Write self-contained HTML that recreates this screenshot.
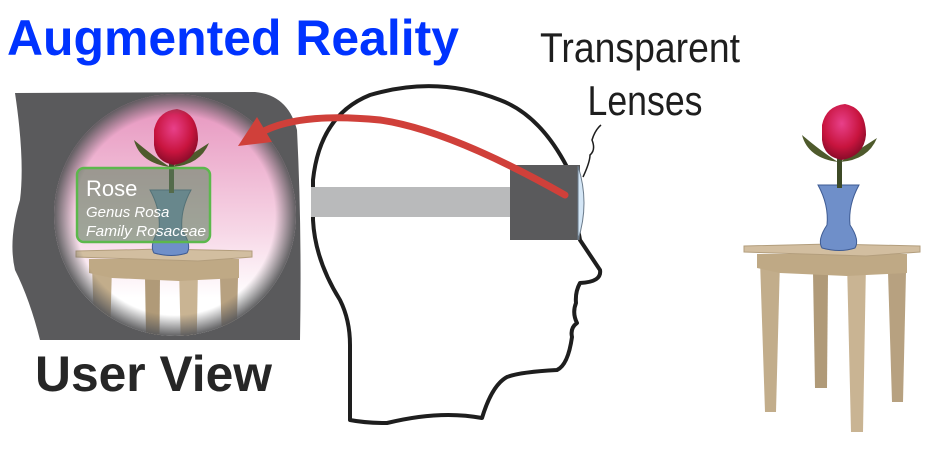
<!DOCTYPE html>
<html><head><meta charset="utf-8"><style>
html,body{margin:0;padding:0;background:#fff;}
body{width:950px;height:452px;overflow:hidden;position:relative;}
svg{position:absolute;left:0;top:0;}
</style></head><body>
<svg width="950" height="452" viewBox="0 0 950 452" xmlns="http://www.w3.org/2000/svg">
<defs>
 <radialGradient id="vig" cx="175" cy="215" r="122" gradientUnits="userSpaceOnUse">
  <stop offset="0.82" stop-color="#5a5a5c" stop-opacity="0"/>
  <stop offset="1" stop-color="#5a5a5c" stop-opacity="1"/>
 </radialGradient>
 <linearGradient id="pink" x1="0" y1="0" x2="0" y2="1">
  <stop offset="0" stop-color="#e58fbb"/>
  <stop offset="0.55" stop-color="#f7d8e7"/>
  <stop offset="0.8" stop-color="#ffffff"/>
 </linearGradient>
 <radialGradient id="rose" cx="0.45" cy="0.35" r="0.7">
  <stop offset="0" stop-color="#e8408a"/><stop offset="0.6" stop-color="#c8143e"/><stop offset="1" stop-color="#7a0a24"/>
 </radialGradient>
 <clipPath id="circ"><circle cx="175" cy="215" r="121"/></clipPath>
 <g id="scene">
  <polygon points="813,272 828,272 827,388 815,388" fill="#b09a78"/>
  <polygon points="888,272 906,272 903,402 892,402" fill="#b7a180"/>
  <polygon points="760,260 780,260 776,412 765,412" fill="#c2ad8b"/>
  <polygon points="847,262 866,262 863,432 851,432" fill="#c9b493"/>
  <polygon points="757,254 907,254 907,273 866,275 847,276 780,273 757,268" fill="#bfa985"/>
  <polygon points="744,246 830,244 920,246 920,252 866,256 744,252" fill="#d2bea0" stroke="#b39e7d" stroke-width="1"/>
  <path d="M818,185 L859,185 Q848,205 850,225 Q860,240 855,248 Q840,253 822,248 Q817,240 827,225 Q829,205 818,185Z" fill="#6f8fc9" stroke="#3e5b93" stroke-width="1"/>
  <rect x="837" y="155" width="5" height="33" fill="#3d4a26"/>
  <path d="M802,135 Q808,158 838,162 Q822,152 802,135Z" fill="#4e5a2c"/>
  <path d="M877,138 Q868,160 840,162 Q858,150 877,138Z" fill="#4e5a2c"/>
  <path d="M822,125 Q826,106 845,104 Q866,108 866,135 Q864,156 842,160 Q824,157 822,140Z" fill="url(#rose)"/>
 </g>
</defs>

<path d="M15,93 L255,92 Q288,95 297,130 Q302,230 300,340 L40,340 Q30,300 15,270 Q8,240 20,200 Q25,160 15,93Z" fill="#5a5a5c"/>
<g clip-path="url(#circ)">
 <rect x="40" y="90" width="270" height="260" fill="url(#pink)"/>
 <use href="#scene" transform="translate(-668,5)"/>
 <rect x="40" y="90" width="270" height="260" fill="url(#vig)"/>
</g>
<rect x="77" y="168" width="133" height="74" rx="7" fill="rgba(100,130,100,0.6)" stroke="#5cb84c" stroke-width="2.5"/>
<text x="86" y="196" font-family="Liberation Sans, sans-serif" font-size="22" fill="#fff">Rose</text>
<text x="86" y="217" font-family="Liberation Sans, sans-serif" font-size="15" font-style="italic" fill="#fff">Genus Rosa</text>
<text x="86" y="236" font-family="Liberation Sans, sans-serif" font-size="15" font-style="italic" fill="#fff" textLength="120" lengthAdjust="spacingAndGlyphs">Family Rosaceae</text>

<path d="M350,420 L350,345 Q350,320 340,300 Q315,260 313,220 L313,180 Q320,115 370,95 Q437,75 500,100 Q540,115 567,167 L580,240 L600,270 Q602,282 580,283 Q575,292 576,303 Q572,313 577,323 Q570,328 572,337 Q568,365 557,370 Q520,372 507,377 Q492,385 482,418 Q440,410 387,423 Q365,423 350,420Z" fill="#fff" stroke="#1e1e1e" stroke-width="4" stroke-linejoin="round"/>
<rect x="311" y="187" width="200" height="30" fill="#b9babb"/>
<rect x="510" y="165" width="70" height="75" fill="#5a5a5c"/>
<path d="M578,166 Q590,203 578,240 Z" fill="#d4e6f6" stroke="#6a7a8a" stroke-width="1"/>
<path d="M601,125 Q595,130 592,140 Q596,150 590,155 Q590,162 583,177" fill="none" stroke="#1e1e1e" stroke-width="1.5"/>
<path d="M565,195 Q450,130 380,120 Q300,112 262,132" fill="none" stroke="#d0403a" stroke-width="7" stroke-linecap="round"/>
<polygon points="238,146 257,117 272,142" fill="#d0403a"/>

<use href="#scene"/>

<text x="7" y="55" font-family="Liberation Sans, sans-serif" font-weight="bold" font-size="50" fill="#0033ff" textLength="452" lengthAdjust="spacingAndGlyphs">Augmented Reality</text>
<text x="640" y="62" text-anchor="middle" font-family="Liberation Sans, sans-serif" font-size="42" fill="#1e1e1e" textLength="200" lengthAdjust="spacingAndGlyphs">Transparent</text>
<text x="645" y="115" text-anchor="middle" font-family="Liberation Sans, sans-serif" font-size="42" fill="#1e1e1e" textLength="115" lengthAdjust="spacingAndGlyphs">Lenses</text>
<text x="35" y="391" font-family="Liberation Sans, sans-serif" font-weight="bold" font-size="50" fill="#262626" textLength="237" lengthAdjust="spacingAndGlyphs">User View</text>
</svg>
</body></html>
